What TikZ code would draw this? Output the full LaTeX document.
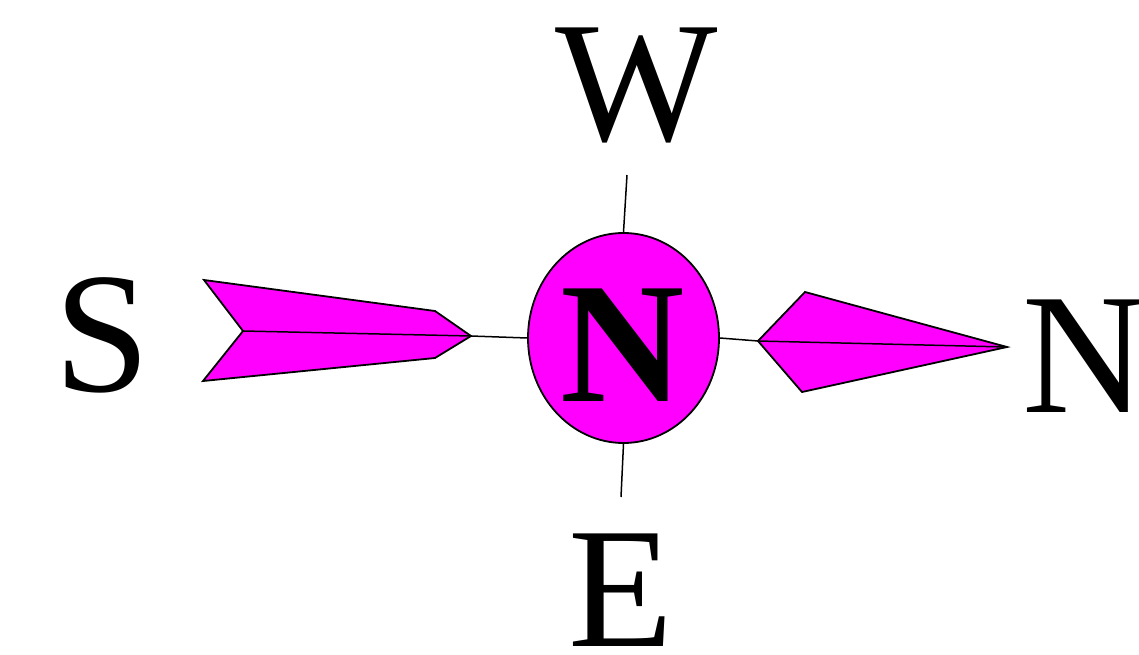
\documentclass[tikz,border=0pt]{standalone}
\usepackage{fontspec}
\setmainfont{Liberation Serif}
\usetikzlibrary{shapes.geometric}
\definecolor{vanepink}{RGB}{255,0,255}
\begin{document}
\begin{tikzpicture}[
    x=1pt, y=-1pt,
    letter/.style={inner sep=0pt, font=\fontsize{172}{172}\selectfont},
    vane/.style={draw=black, fill=vanepink, line width=1.8pt, line join=miter},
    tick/.style={line width=1.5pt}
]
    \useasboundingbox (0,0) rectangle (1139,655);

    % hub with the bold N
    \node[ellipse, draw, fill=vanepink, line width=1.8pt, inner sep=0pt,
          minimum width=191pt, minimum height=210pt] (hub) at (623.5,338) {};
    \node[letter, font=\fontsize{172}{172}\selectfont\bfseries] (hubn) at (623,345) {N};

    % compass letters
    \node[letter] (wlab) at (637,85) {W};
    \node[letter] (slab) at (102,335) {S};
    \node[letter] (nlab) at (1085,356) {N};
    \node[letter] (elab) at (621,590) {E};

    % ends of the vanes and ticks
    \coordinate (snotch) at (243,331);
    \coordinate (stip) at (471,336);
    \coordinate (ntail) at (758,341);
    \coordinate (ntip) at (1007,347);
    \coordinate (wtick) at (627,175);
    \coordinate (etick) at (621,497);

    % left vane
    \draw[vane] (204,280) -- (435,311) -- (stip) -- (435,358) -- (203,381) -- (snotch) -- cycle;
    \draw[tick] (snotch) -- (stip);
    % right vane
    \draw[vane] (ntail) -- (805,292) -- (ntip) -- (802,392) -- cycle;
    \draw[tick] (ntail) -- (ntip);

    % ticks
    \draw[tick] (stip) -- (hub.west);
    \draw[tick] (hub.east) -- (ntail);
    \draw[tick] (wtick) -- (hub.north);
    \draw[tick] (hub.south) -- (etick);
\end{tikzpicture}
\end{document}
